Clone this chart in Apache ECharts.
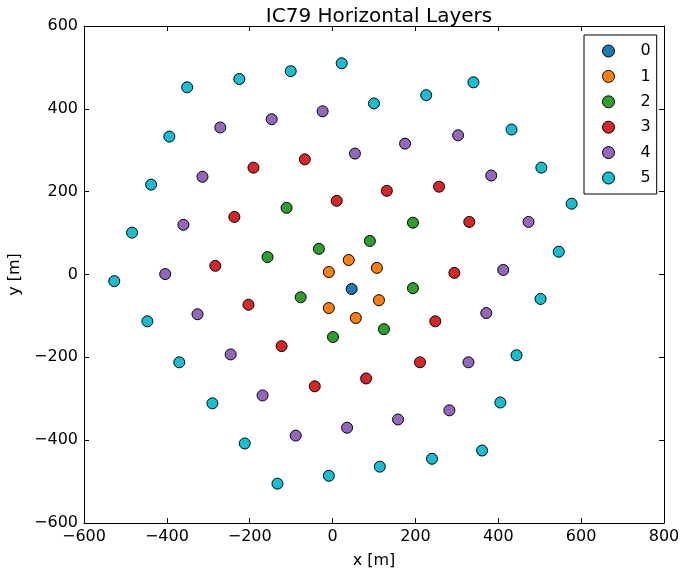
<!DOCTYPE html>
<html>
<head>
<meta charset="utf-8">
<script src="https://cdn.jsdelivr.net/npm/echarts@6/dist/echarts.min.js"></script>
<style>
html,body{margin:0;padding:0;background:#fff;}
#chart{width:683px;height:573px;}
</style>
</head>
<body>
<div id="chart"></div>
<script>
const layerNames = ['0','1','2','3','4','5'];
const layerColors = ['#1f77b4','#ff7f0e','#2ca02c','#d62728','#9467bd','#17becf'];
const xTicks = [-600,-400,-200,0,200,400,600,800];
const yTicks = [-600,-400,-200,0,200,400,600];

const layer0 = [[46,-35]];
const layer1 = [[-9,6],[39,35],[107,16],[112,-62],[56,-105],[-9,-81]];
const layer2 = [[-33,62],[90,81],[194,125],[194,-33],[124,-132],[1,-151],[-77,-55],[-157,42],[-111,161]];
const layer3 = [[-67,278],[10,178],[131,202],[257,212],[330,127],[294,4],[248,-113],[211,-212],[81,-251],[-43,-270],[-123,-173],[-203,-73],[-283,21],[-237,139],[-191,258]];
const layer4 = [[-271,355],[-147,375],[-24,394],[54,292],[175,316],[303,336],[383,239],[473,127],[412,11],[371,-93],[328,-212],[282,-328],[158,-350],[35,-370],[-89,-389],[-169,-292],[-246,-193],[-326,-96],[-404,1],[-360,120],[-314,236]];
const layer5 = [[-351,452],[-225,472],[-101,491],[22,510],[100,413],[226,433],[340,464],[432,350],[504,258],[577,171],[546,55],[502,-59],[444,-195],[405,-309],[361,-425],[240,-445],[114,-464],[-9,-486],[-133,-505],[-212,-408],[-290,-311],[-370,-212],[-447,-113],[-527,-16],[-484,101],[-438,217],[-394,333]];
const layers = [layer0, layer1, layer2, layer3, layer4, layer5];

const FONT = 'DejaVu Sans';
const chart = echarts.init(document.getElementById('chart'), null, {renderer:'canvas'});

function axisBase(min, max, interval, pos, showLabel){
  return {
    type:'value', min:min, max:max, interval:interval, position:pos,
    axisLine:{show:true, onZero:false, lineStyle:{color:'#000', width:1}},
    axisTick:{show:true, inside:true, length:5, lineStyle:{color:'#000', width:1}},
    axisLabel:{show:showLabel, color:'#000', fontFamily:FONT, fontSize:16, margin:6},
    splitLine:{show:false}
  };
}

const xMain = axisBase(xTicks[0], xTicks[xTicks.length-1], 200, 'bottom', true);
xMain.name = 'x [m]'; xMain.nameLocation = 'middle'; xMain.nameGap = 30;
xMain.nameTextStyle = {color:'#000', fontFamily:FONT, fontSize:16};
xMain.axisLabel.formatter = v => String(v).replace('-', '\u2212');
const xTop = axisBase(xTicks[0], xTicks[xTicks.length-1], 200, 'top', false);

const yMain = axisBase(yTicks[0], yTicks[yTicks.length-1], 200, 'left', true);
yMain.name = 'y [m]'; yMain.nameLocation = 'middle'; yMain.nameGap = 53;
yMain.nameTextStyle = {color:'#000', fontFamily:FONT, fontSize:16};
yMain.axisLabel.formatter = v => String(v).replace('-', '\u2212');
const yRight = axisBase(yTicks[0], yTicks[yTicks.length-1], 200, 'right', false);

const series = layers.map((d, i) => ({
  name: layerNames[i],
  type: 'scatter',
  data: d,
  symbol: 'circle',
  symbolSize: 11,
  itemStyle: {color: layerColors[i], borderColor:'#000', borderWidth:1, opacity:1},
  emphasis: {disabled:true}
}));

chart.setOption({
  animation:false,
  backgroundColor:'#fff',
  title:{
    text:'IC79 Horizontal Layers', left:374, top:2, textAlign:'center',
    textStyle:{color:'#000', fontFamily:FONT, fontSize:20, fontWeight:'normal'}
  },
  grid:{left:84, top:26, width:580, height:497, containLabel:false, outerBoundsMode:'none'},
  xAxis:[xMain, xTop],
  yAxis:[yMain, yRight],
  legend:{
    orient:'vertical', left:584, top:35,
    padding:[8, 6, 8, 18],
    itemWidth:12, itemHeight:12, itemGap:9.4,
    borderColor:'#000', borderWidth:1, borderRadius:0,
    backgroundColor:'#fff',
    icon:'circle',
    itemStyle:{borderColor:'#000', borderWidth:1},
    textStyle:{color:'#000', fontFamily:FONT, fontSize:16, padding:[0,0,0,21]},
    data: layerNames
  },
  series: series
});
</script>
</body>
</html>
